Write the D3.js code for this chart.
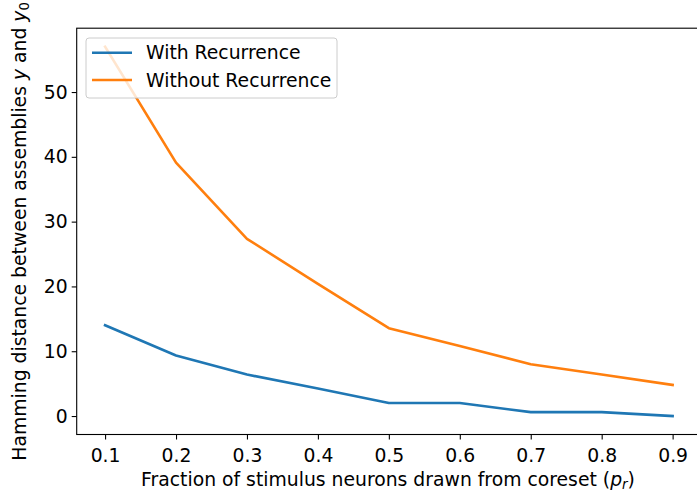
<!DOCTYPE html>
<html>
<head>
<meta charset="utf-8">
<script src="https://cdn.jsdelivr.net/npm/d3@7"></script>
<style>
  html, body { margin: 0; padding: 0; background: #fff; }
  svg { display: block; }
  text { font-family: "DejaVu Sans", sans-serif; fill: #000; }
</style>
</head>
<body>
<svg id="chart" width="697" height="495"></svg>
<script>
// Fraction of stimulus neurons drawn from the coreset
const fractions = [0.1, 0.2, 0.3, 0.4, 0.5, 0.6, 0.7, 0.8, 0.9];
// Hamming distance between assemblies y and y0
const withRecurrence = [14, 9.35, 6.4, 4.25, 2, 2, 0.6, 0.6, 0];
const withoutRecurrence = [57, 39.1, 27.35, 20.4, 13.55, 10.8, 8, 6.4, 4.8];
const seriesNames = ["With Recurrence", "Without Recurrence"];
const seriesColors = ["#1f77b4", "#ff7f0e"];
const xTicks = [0.1, 0.2, 0.3, 0.4, 0.5, 0.6, 0.7, 0.8, 0.9];
const yTicks = [0, 10, 20, 30, 40, 50];

const FONT = "18.8px";
const SUB = "13.4px";
const svg = d3.select("#chart");
const plot = { left: 76.7, right: 701, top: 28.2, bottom: 434.5 };

const x = d3.scaleLinear().domain([0.06, 0.94]).range([plot.left, plot.right]);
const y = d3.scaleLinear().domain([-2.85, 59.85]).range([plot.bottom, plot.top]);

// frame (right spine falls outside the canvas)
svg.append("rect")
  .attr("x", plot.left).attr("y", plot.top)
  .attr("width", plot.right - plot.left).attr("height", plot.bottom - plot.top)
  .attr("fill", "none").attr("stroke", "#000").attr("stroke-width", 1.1);

// axes
const xAxis = svg.append("g")
  .attr("transform", `translate(0,${plot.bottom})`)
  .call(d3.axisBottom(x).tickValues(xTicks).tickFormat(d3.format(".1f")).tickSize(5));
const yAxis = svg.append("g")
  .attr("transform", `translate(${plot.left},0)`)
  .call(d3.axisLeft(y).tickValues(yTicks).tickFormat(d3.format("d")).tickSize(5).tickPadding(4));
[xAxis, yAxis].forEach(g => {
  g.attr("font-size", null).attr("font-family", null);
  g.select(".domain").remove();
  g.selectAll(".tick line").attr("stroke", "#000").attr("stroke-width", 1.1);
  g.selectAll(".tick text").style("font-family", "DejaVu Sans").style("font-size", FONT).attr("fill", "#000");
});
xAxis.selectAll(".tick text").attr("y", 27).attr("dy", null);

// lines
const line = d3.line().x((d, i) => x(fractions[i])).y(d => y(d));
[withRecurrence, withoutRecurrence].forEach((vals, k) => {
  svg.append("path")
    .datum(vals)
    .attr("d", line)
    .attr("fill", "none")
    .attr("stroke", seriesColors[k])
    .attr("stroke-width", 2.6)
    .attr("stroke-linecap", "square")
    .attr("stroke-linejoin", "round");
});

// axis titles
const xTitle = svg.append("text")
  .attr("x", 388).attr("y", 486)
  .attr("text-anchor", "middle").style("font-size", FONT);
xTitle.append("tspan").text("Fraction of stimulus neurons drawn from coreset (");
xTitle.append("tspan").attr("font-style", "italic").text("p");
xTitle.append("tspan").attr("font-style", "italic").attr("font-size", SUB).attr("dy", "3").text("r");
xTitle.append("tspan").attr("dy", "-3").text(")");

const yTitle = svg.append("text")
  .attr("transform", `translate(26,${(plot.top + plot.bottom) / 2}) rotate(-90)`)
  .attr("text-anchor", "middle").style("font-size", FONT);
yTitle.append("tspan").text("Hamming distance between assemblies ");
yTitle.append("tspan").attr("font-style", "italic").text("y");
yTitle.append("tspan").text(" and ");
yTitle.append("tspan").attr("font-style", "italic").text("y");
yTitle.append("tspan").attr("font-size", SUB).attr("dy", "3").text("0");

// legend
const legend = svg.append("g").attr("transform", "translate(86,38)");
legend.append("rect")
  .attr("width", 251).attr("height", 60).attr("rx", 3)
  .attr("fill", "#fff").attr("fill-opacity", 0.8)
  .attr("stroke", "#ccc").attr("stroke-width", 1);
seriesNames.forEach((name, i) => {
  const yy = 14.7 + i * 27.3;
  legend.append("line")
    .attr("x1", 6).attr("x2", 46).attr("y1", yy).attr("y2", yy)
    .attr("stroke", seriesColors[i]).attr("stroke-width", 2.6);
  legend.append("text")
    .attr("x", 60).attr("y", yy).attr("dy", "0.35em")
    .style("font-size", FONT).text(name);
});
</script>
</body>
</html>
